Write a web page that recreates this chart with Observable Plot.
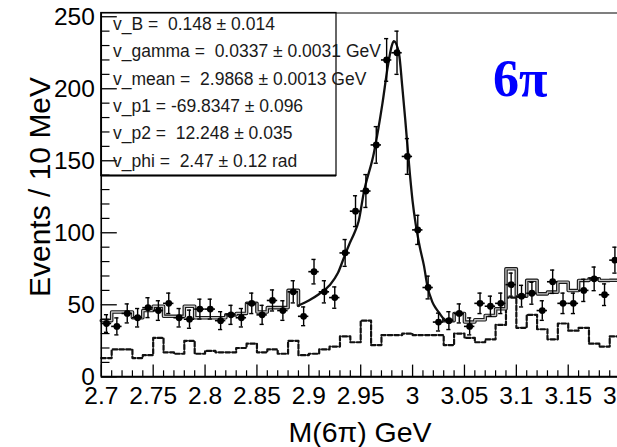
<!DOCTYPE html>
<html>
<head>
<meta charset="utf-8">
<script src="https://cdn.jsdelivr.net/npm/d3@7"></script>
<script src="https://cdn.jsdelivr.net/npm/@observablehq/plot@0.6"></script>
<style>
  html, body { margin: 0; padding: 0; background: #fff; }
  #chart { position: relative; width: 617px; height: 447px; overflow: hidden; }
  #chart svg { max-width: none !important; display: block; }
</style>
</head>
<body>
<div id="chart"></div>
<script>
// 10 MeV bins of the 6-pion invariant mass (bin centres, GeV)
const binCenters = [
  2.705, 2.715, 2.725, 2.735, 2.745, 2.755, 2.765, 2.775, 2.785, 2.795,
  2.805, 2.815, 2.825, 2.835, 2.845, 2.855, 2.865, 2.875, 2.885, 2.895,
  2.905, 2.915, 2.925, 2.935, 2.945, 2.955, 2.965, 2.975, 2.985, 2.995,
  3.005, 3.015, 3.025, 3.035, 3.045, 3.055, 3.065, 3.075, 3.085, 3.095,
  3.105, 3.115, 3.125, 3.135, 3.145, 3.155, 3.165, 3.175, 3.185, 3.195
];
const binWidth = 0.01;

// Observed events per bin and their statistical errors
const events = [
  37, 35, 44, 41, 48, 46, 51, 41, 40, 47,
  47, 39, 43, 41, 51, 43, 53, 46, 59, 42,
  73, 59, 55, 86, 115, 129, 161, 220, 225, 153,
  102, 62, 38, 39, 44, 35, 51, 49, 51, 64,
  56, 58, 46, 66, 51, 51, 60, 68, 57, 81
];
const eventErrors = [
  6.1, 5.9, 6.6, 6.4, 6.9, 6.8, 7.1, 6.4, 6.3, 6.9,
  6.9, 6.2, 6.6, 6.4, 7.1, 6.6, 7.3, 6.8, 7.7, 6.5,
  8.5, 7.7, 7.4, 9.3, 10.7, 11.4, 12.7, 14.8, 15.0, 12.4,
  10.1, 7.9, 6.2, 6.2, 6.6, 5.9, 7.1, 7.0, 7.1, 8.0,
  7.5, 7.6, 6.8, 8.1, 7.1, 7.1, 7.7, 8.2, 7.5, 9.0
];

// Background estimate (dashed histogram), one value per bin
const background = [
  13, 19, 19, 13, 15, 27, 17, 16, 25, 16,
  18, 17, 17, 20, 23, 17, 19, 16, 25, 15,
  16, 19, 21, 28, 24, 39, 22, 29, 29, 30,
  29, 29, 29, 22, 30, 27, 24, 26, 36, 55,
  34, 43, 33, 26, 37, 32, 34, 23, 21, 28
];

// Solid histogram outside the fitted peak window
const histLowBins = [
  2.705, 2.715, 2.725, 2.735, 2.745, 2.755, 2.765, 2.775, 2.785, 2.795,
  2.805, 2.815, 2.825, 2.835, 2.845, 2.855, 2.865, 2.875, 2.885
];
const histLow = [39, 45, 45, 41, 46, 49, 42, 42, 49, 41, 41, 41, 43, 44, 51, 45, 48, 48, 60];
const histHighBins = [
  3.035, 3.045, 3.055, 3.065, 3.075, 3.085, 3.095, 3.105, 3.115,
  3.125, 3.135, 3.145, 3.155, 3.165, 3.175, 3.185, 3.195
];
const histHigh = [39, 44, 38, 39.6, 42.6, 47.2, 75, 56, 67, 57.6, 58.8, 65.7, 59.9, 66.9, 68, 66.9, 67];

// Fitted line shape over the peak window
const fitMass = [
  2.890, 2.900, 2.910, 2.920, 2.928, 2.934, 2.939, 2.944, 2.948, 2.953,
  2.9626, 2.971, 2.976, 2.980, 2.982, 2.987, 2.990, 2.993, 2.9975, 3.000,
  3.003, 3.007, 3.011, 3.014, 3.019, 3.022, 3.025, 3.030
];
const fitValue = [
  49.5, 53, 57.5, 63.5, 72, 83, 92, 100, 108, 128,
  155, 190, 215, 230, 233, 224, 202, 178, 140, 122,
  106, 90, 77, 64, 52, 48, 45, 40
];

// Axis ticks and labels
const xTickLabels = ["2.7", "2.75", "2.8", "2.85", "2.9", "2.95", "3", "3.05", "3.1", "3.15", "3.2"];
const xMinorTicks = ["2.71","2.72","2.73","2.74","2.76","2.77","2.78","2.79","2.81","2.82","2.83","2.84",
  "2.86","2.87","2.88","2.89","2.91","2.92","2.93","2.94","2.96","2.97","2.98","2.99",
  "3.01","3.02","3.03","3.04","3.06","3.07","3.08","3.09","3.11","3.12","3.13","3.14",
  "3.16","3.17","3.18","3.19"];
const yTickLabels = ["0", "50", "100", "150", "200", "250"];
const yMinorTicks = [10, 20, 30, 40, 60, 70, 80, 90, 110, 120, 130, 140, 160, 170, 180, 190, 210, 220, 230, 240];

// Fit results shown in the statistics box
const fitStats = [
  "v_B =  0.148 ± 0.014",
  "v_gamma =  0.0337 ± 0.0031 GeV",
  "v_mean =  2.9868 ± 0.0013 GeV",
  "v_p1 = -69.8347 ± 0.096",
  "v_p2 =  12.248 ± 0.035",
  "v_phi =  2.47 ± 0.12 rad"
];
const channelLabel = "6π";
const xTitle = "M(6π) GeV";
const yTitle = "Events / 10 MeV";

// ---- derived tables ----
const xTicks = xTickLabels.map(Number);
const xLabelOf = new Map(xTicks.map((v, i) => [v, xTickLabels[i]]));
const yTicks = yTickLabels.map(Number);
const half = binWidth / 2;

const points = binCenters.map((m, i) => ({m, v: events[i], e: eventErrors[i]}));

const bgSteps = binCenters.map((m, i) => ({x: m - half, y: background[i]}));
bgSteps.push({x: binCenters[binCenters.length - 1] + half, y: background[background.length - 1]});

const lowSteps = histLowBins.map((m, i) => ({x: m - half, y: histLow[i]}));
lowSteps.push({x: histLowBins[histLowBins.length - 1] + half, y: fitValue[0]});

const highSteps = [{x: fitMass[fitMass.length - 1], y: fitValue[fitValue.length - 1]}]
  .concat(histHighBins.map((m, i) => ({x: m - half, y: histHigh[i]})));
highSteps.push({x: histHighBins[histHighBins.length - 1] + half, y: histHigh[histHigh.length - 1]});

const fitCurve = fitMass.map((m, i) => ({x: m, y: fitValue[i]}));

const W = 622, H = 447, mL = 100.8, mR = 2.4, mT = 12.5, mB = 70.7;
const plotW = W - mL - mR, plotH = H - mT - mB;
const capHalf = 0.002;

const doubleLine = (data) => [
  Plot.line(data, {x: "x", y: "y", curve: "step-after", stroke: "#1a1a1a", strokeWidth: 3.6}),
  Plot.line(data, {x: "x", y: "y", curve: "step-after", stroke: "#c4c4c4", strokeWidth: 1.3})
];

const chart = Plot.plot({
  width: W,
  height: H,
  marginLeft: mL,
  marginRight: mR,
  marginTop: mT,
  marginBottom: mB,
  style: {fontFamily: "'Liberation Sans', Arial, Helvetica, sans-serif", background: "#fff", color: "#000"},
  x: {domain: [2.7, 3.2]},
  y: {domain: [0, 252.6]},
  marks: [
    // background histogram
    Plot.line(bgSteps, {x: "x", y: "y", curve: "step-after", stroke: "#111", strokeWidth: 2.2, strokeDasharray: "4.5,2.2"}),
    // solid histogram and fit
    ...doubleLine(lowSteps),
    ...doubleLine(highSteps),
    Plot.line(fitCurve, {x: "x", y: "y", curve: "monotone-x", stroke: "#111", strokeWidth: 2.3}),
    // data with error bars
    Plot.ruleX(points, {x: "m", y1: d => d.v - d.e, y2: d => d.v + d.e, stroke: "#000", strokeWidth: 1.4}),
    Plot.ruleY(points, {y: d => d.v + d.e, x1: d => d.m - capHalf, x2: d => d.m + capHalf, stroke: "#000", strokeWidth: 1.4}),
    Plot.ruleY(points, {y: d => d.v - d.e, x1: d => d.m - capHalf, x2: d => d.m + capHalf, stroke: "#000", strokeWidth: 1.4}),
    Plot.ruleY(points, {y: "v", x1: d => d.m - half, x2: d => d.m + half, stroke: "#000", strokeWidth: 1.6}),
    Plot.dot(points, {x: "m", y: "v", r: 3.4, fill: "#000", stroke: "none"}),
    // frame and axis ticks (pointing inward)
    Plot.frame({stroke: "#000", strokeWidth: 1}),
    Plot.ruleY([0], {stroke: "#000", strokeWidth: 2}),
    Plot.ruleX([2.7], {stroke: "#000", strokeWidth: 1.5}),
    Plot.tickX(xTicks, {x: d => d, insetTop: plotH - 11.7, stroke: "#000", strokeWidth: 1.3}),
    Plot.tickX(xMinorTicks.map(Number), {x: d => d, insetTop: plotH - 6, stroke: "#000", strokeWidth: 1.2}),
    Plot.tickY(yTicks, {y: d => d, insetRight: plotW - 16, stroke: "#000", strokeWidth: 1.3}),
    Plot.tickY(yMinorTicks, {y: d => d, insetRight: plotW - 8.7, stroke: "#000", strokeWidth: 1.2}),
    Plot.axisX({ticks: xTicks, tickFormat: d => xLabelOf.get(d), tickSize: 0, tickPadding: 10, fontSize: 24.5, label: null}),
    Plot.axisY({ticks: yTicks, tickFormat: d => String(d), tickSize: 0, tickPadding: 6.5, fontSize: 24.5, label: null})
  ]
});

document.getElementById("chart").appendChild(chart);

// titles, statistics box and channel tag
const svg = d3.select(chart);
svg.append("text")
  .attr("x", 360).attr("y", 442)
  .attr("text-anchor", "middle")
  .attr("font-size", 28.5)
  .attr("fill", "#000")
  .text(xTitle);
svg.append("text")
  .attr("transform", "translate(50,187) rotate(-90)")
  .attr("text-anchor", "middle")
  .attr("font-size", 30)
  .attr("fill", "#000")
  .text(yTitle);

svg.append("rect")
  .attr("x", mL).attr("y", mT)
  .attr("width", 235.2).attr("height", 163)
  .attr("fill", "none").attr("stroke", "#000").attr("stroke-width", 1.2);
svg.append("line")
  .attr("x1", mL).attr("x2", mL + 235.2)
  .attr("y1", mT + 163).attr("y2", mT + 163)
  .attr("stroke", "#000").attr("stroke-width", 2);
svg.selectAll("text.stat")
  .data(fitStats)
  .join("text")
  .attr("class", "stat")
  .attr("x", 113)
  .attr("y", (d, i) => 29.8 + i * 27.4)
  .attr("text-anchor", "start")
  .attr("font-size", 17.5)
  .attr("fill", "#1a1a1a")
  .style("white-space", "pre")
  .text(d => d);

svg.append("text")
  .attr("x", 493).attr("y", 96)
  .attr("text-anchor", "start")
  .attr("font-family", "'Liberation Serif', 'Times New Roman', serif")
  .attr("font-weight", "bold")
  .attr("font-size", 52)
  .attr("fill", "#0000ff")
  .text(channelLabel);
</script>
</body>
</html>
